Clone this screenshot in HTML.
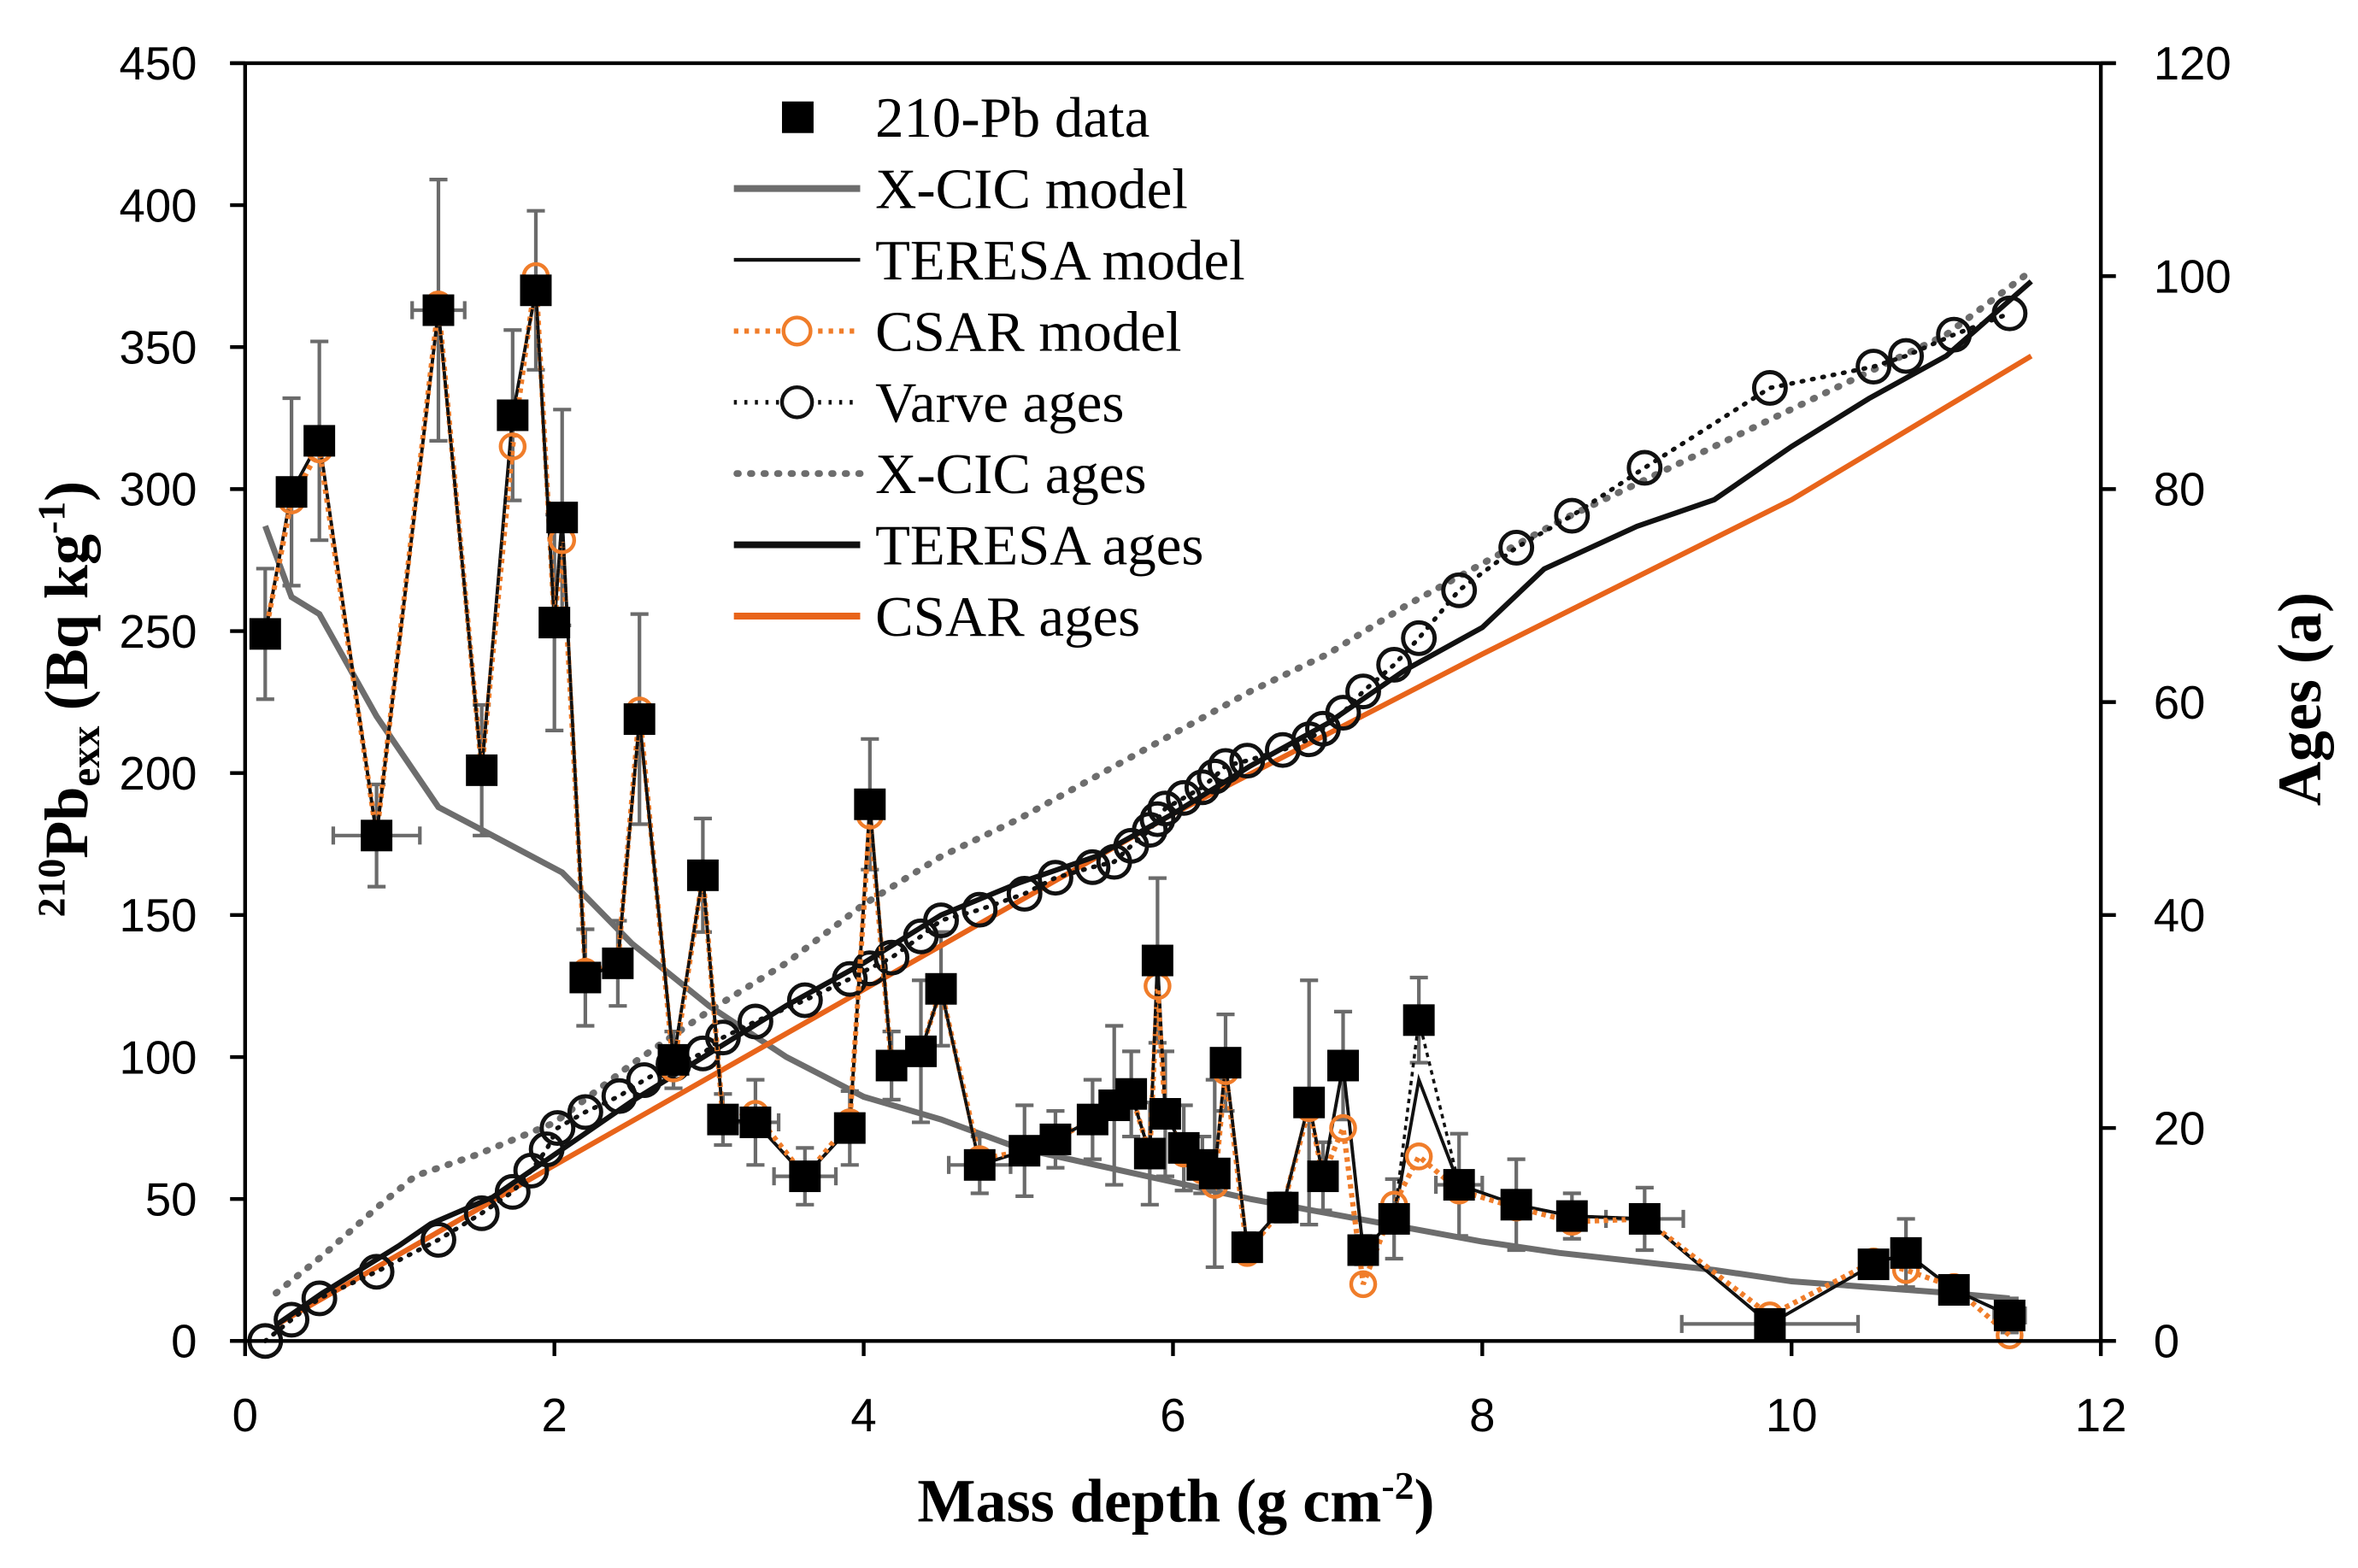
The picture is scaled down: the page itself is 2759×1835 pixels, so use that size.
<!DOCTYPE html>
<html><head><meta charset="utf-8"><style>
html,body{margin:0;padding:0;background:#fff;}
svg{display:block;}
.sans{font-family:"Liberation Sans",sans-serif;}
.ser{font-family:"Liberation Serif",serif;}
</style></head><body>
<svg id="chart" width="2759" height="1835" viewBox="0 0 1568 1043" preserveAspectRatio="none" xmlns="http://www.w3.org/2000/svg">
<g id="plot"></g>
<g id="axes"></g>
<g id="legend"></g>
</svg>
<script>
// ---- data ----
const pbDepth = [0.13,0.30,0.48,0.85,1.25,1.53,1.73,1.88,2.0,2.05,2.2,2.41,2.55,2.77,2.96,3.09,3.30,3.62,3.91,4.04,4.18,4.37,4.50,4.75,5.04,5.24,5.48,5.62,5.73,5.85,5.90,5.95,6.07,6.19,6.27,6.34,6.48,6.71,6.88,6.97,7.10,7.23,7.43,7.59,7.85,8.22,8.58,9.05,9.86,10.53,10.74,11.05,11.41];
const pbValue = [249,299,317,178,363,201,326,370,253,290,128,133,219,99,164,78,77,58,75,189,97,102,124,62,67,71,78,83,87,66,134,80,68,62,59,98,33,47,84,58,97,32,43,113,55,48,44,43,6,27,31,18,9];
const pbYErr = [23,33,35,18,46,23,30,28,38,38,17,15,37,10,20,9,15,10,13,23,12,25,20,10,16,10,14,28,15,18,29,22,15,10,33,17,5,5,43,12,19,5,14,15,18,16,8,11,3,3,12,4,6];
const pbXErr = [0,0,0,0.28,0.17,0,0,0,0,0,0,0,0,0,0,0,0.15,0.2,0,0,0,0,0,0.2,0,0,0,0,0,0,0,0,0,0,0,0,0,0,0,0,0,0,0,0,0.15,0,0,0.25,0.57,0,0,0,0.1];
const teresaModel = [249,299,317,178,363,201,326,370,253,290,128,133,219,99,164,78,77,58,75,189,97,102,124,62,67,71,78,83,87,66,134,80,68,62,59,98,33,47,84,58,97,32,43,92,55,48,44,43,6,27,31,18,9];
const csarModel = [249,296,314,178,365,201,315,375,253,282,130,133,222,96,164,78,80,58,77,185,97,102,124,64,67,71,78,83,87,66,125,80,66,60,55,95,31,47,82,58,75,20,48,65,53,47,42,43,9,28,25,19,2];
const xcicDepth = [0.13,0.3,0.48,0.85,1.25,1.53,2.05,2.5,3.0,3.5,4.0,4.5,5.0,5.5,6.0,6.5,7.0,7.5,8.0,8.5,9.0,9.5,10.0,10.5,11.0,11.41];
const xcicModel = [287,262,256,220,188,180,165,140,118,100,86,78,68,62,56,50,45,40,35,31,28,25,21,19,17,15];
const varveDepth = [0.13,0.3,0.48,0.85,1.25,1.53,1.73,1.85,1.95,2.02,2.2,2.42,2.58,2.77,2.96,3.09,3.3,3.62,3.91,4.04,4.18,4.37,4.50,4.75,5.04,5.24,5.48,5.62,5.73,5.85,5.90,5.95,6.07,6.19,6.27,6.34,6.48,6.71,6.88,6.97,7.10,7.23,7.43,7.59,7.85,8.22,8.58,9.05,9.86,10.53,10.74,11.05,11.41];
const varveAge = [0,2,4,6.5,9.5,12,14,16,18,20,21.5,23,24.5,26,27,28.5,30,32,34,35,36,38,39.5,40.5,42,43.5,44.5,45,46.5,48,49,50,51,52,53,54,54.5,55.5,56.5,57.5,59,61,63.5,66,70.5,74.5,77.5,82,89.5,91.5,92.5,94.5,96.5];
const xcicAgeDepth = [0.2,0.5,0.85,1.1,1.5,2.0,2.5,3.0,3.5,4.0,4.5,5.0,5.5,6.0,6.5,7.0,7.5,8.0,8.5,9.0,9.5,10.0,10.5,11.0,11.55];
const xcicAge = [4.5,8,12.5,15.5,17.5,20.5,26,31,35.5,41,45.5,49,53,57,61,64.5,69,73,77,80.5,84,87.5,91,94.5,100.5];
const teresaAgeDepth = [0.2,0.5,1.0,1.2,1.6,2.0,2.5,3.0,3.5,4.0,4.5,5.0,5.5,6.0,6.5,7.0,7.5,8.0,8.4,9.0,9.5,10.0,10.5,11.0,11.55];
const teresaAge = [1.5,4.5,9,11,13.5,17.5,22.5,27,31.5,35.5,40,43,45.5,49.5,54,58,63,67,72.5,76.5,79,84,88.5,92.5,99.5];
const csarAgeDepth = [0.2,2,4,6,8,10,11.55];
const csarAge = [1.5,16.5,33,49.5,64.5,79,92.5];
const xTicks = [0,2,4,6,8,10,12];
const yTicks = [0,50,100,150,200,250,300,350,400,450];
const y2Ticks = [0,20,40,60,80,100,120];

// ---- axis functions ----
const X0=163,X1=1397,YT=42,YB=892;
const sx=v=>X0+(X1-X0)*v/12;
const sy=v=>YB-(YB-YT)*v/450;
const sy2=v=>YB-(YB-YT)*v/120;
const NS="http://www.w3.org/2000/svg";
function mk(tag,attrs,parent){const e=document.createElementNS(NS,tag);for(const k in attrs)e.setAttribute(k,attrs[k]);parent.appendChild(e);return e;}
const plot=document.getElementById('plot'),axes=document.getElementById('axes'),legend=document.getElementById('legend');
function poly(xs,ys,f,style,name){
  const p=mk('polyline',Object.assign({points:xs.map((x,i)=>sx(x)+','+f(ys[i])).join(' '),fill:'none'},style),plot);
  
  
}
pbDepth.forEach((d,i)=>{
  const g=mk('g',{stroke:'#6b6b6b','stroke-width':2.4,fill:'none'},plot);
  
  
  const x=sx(d),y1=sy(pbValue[i]+pbYErr[i]),y2=sy(Math.max(0,pbValue[i]-pbYErr[i]));
  mk('line',{x1:x,x2:x,y1:y1,y2:y2},g);
  mk('line',{x1:x-6,x2:x+6,y1:y1,y2:y1},g);
  mk('line',{x1:x-6,x2:x+6,y1:y2,y2:y2},g);
  if(pbXErr[i]>0){const xa=sx(d-pbXErr[i]),xb=sx(d+pbXErr[i]),y=sy(pbValue[i]);
    mk('line',{x1:xa,x2:xb,y1:y,y2:y},g);mk('line',{x1:xa,x2:xa,y1:y-6,y2:y+6},g);mk('line',{x1:xb,x2:xb,y1:y-6,y2:y+6},g);}
});
poly(xcicDepth,xcicModel,sy,{stroke:'#6d6d6d','stroke-width':4},'x-cic-model-line');
poly(xcicAgeDepth,xcicAge,sy2,{stroke:'#6d6d6d','stroke-width':4.5,'stroke-dasharray':'1 8','stroke-linecap':'round'},'x-cic-ages-line');
poly(csarAgeDepth,csarAge,sy2,{stroke:'#e8641a','stroke-width':3.5},'csar-ages-line');
poly(teresaAgeDepth,teresaAge,sy2,{stroke:'#111','stroke-width':3.5},'teresa-ages-line');
poly(varveDepth,varveAge,sy2,{stroke:'#111','stroke-width':3,'stroke-dasharray':'1 6','stroke-linecap':'round'},'varve-ages-line');
varveDepth.forEach((d,i)=>{const c=mk('circle',{cx:sx(d),cy:sy2(varveAge[i]),r:10.5,fill:'none',stroke:'#111','stroke-width':2.8},plot);
  
  });
poly(pbDepth,teresaModel,sy,{stroke:'#111','stroke-width':2.2},'teresa-model-line');
poly(pbDepth,csarModel,sy,{stroke:'#f07d2a','stroke-width':3.5,'stroke-dasharray':'3 3'},'csar-model-line');
poly(pbDepth,pbValue,sy,{stroke:'#111','stroke-width':2,'stroke-dasharray':'3 3','stroke-dashoffset':3},'pb-data-line');
pbDepth.forEach((d,i)=>{const c=mk('circle',{cx:sx(d),cy:sy(csarModel[i]),r:8,fill:'none',stroke:'#f07d2a','stroke-width':2.5},plot);
  
  });
pbDepth.forEach((d,i)=>{const r=mk('rect',{x:sx(d)-10.5,y:sy(pbValue[i])-10.5,width:21,height:21,fill:'#000'},plot);
  
  });

mk('line',{x1:X0,x2:X0,y1:YT,y2:YB,stroke:'#000','stroke-width':2.5},axes);
mk('line',{x1:X1,x2:X1,y1:YT,y2:YB,stroke:'#000','stroke-width':2.5},axes);
mk('line',{x1:X0-10,x2:X1+10,y1:YB,y2:YB,stroke:'#000','stroke-width':2.5},axes);
mk('line',{x1:X0-10,x2:X1+10,y1:YT,y2:YT,stroke:'#000','stroke-width':2.5},axes);
yTicks.forEach(v=>{mk('line',{x1:X0-10,x2:X0,y1:sy(v),y2:sy(v),stroke:'#000','stroke-width':2.5},axes);
  const t=mk('text',{x:131,y:sy(v)+11,'text-anchor':'end','font-size':31,class:'sans'},axes);t.textContent=v;
  
  });
y2Ticks.forEach(v=>{mk('line',{x1:X1,x2:X1+10,y1:sy2(v),y2:sy2(v),stroke:'#000','stroke-width':2.5},axes);
  const t=mk('text',{x:1432,y:sy2(v)+11,'text-anchor':'start','font-size':31,class:'sans'},axes);t.textContent=v;
  
  });
xTicks.forEach(v=>{mk('line',{x1:sx(v),x2:sx(v),y1:YB,y2:YB+10,stroke:'#000','stroke-width':2.5},axes);
  const t=mk('text',{x:sx(v),y:952,'text-anchor':'middle','font-size':31,class:'sans'},axes);t.textContent=v;
  
  });

const legItems=[['210-Pb data','sq'],['X-CIC model','grey'],['TERESA model','thin'],['CSAR model','csar'],['Varve ages','varve'],['X-CIC ages','greydot'],['TERESA ages','thick'],['CSAR ages','orange']];
legItems.forEach((it,i)=>{
  const y=78+i*47.4;
  const g=mk('g',{},legend);
  
  
  const k=it[1];
  if(k==='sq')mk('rect',{x:520,y:y-10.5,width:21,height:21,fill:'#000'},g);
  if(k==='grey')mk('line',{x1:488,x2:572,y1:y,y2:y,stroke:'#6d6d6d','stroke-width':4.5},g);
  if(k==='thin')mk('line',{x1:488,x2:572,y1:y,y2:y,stroke:'#111','stroke-width':2.5},g);
  if(k==='csar'){mk('line',{x1:488,x2:572,y1:y,y2:y,stroke:'#f07d2a','stroke-width':3.5,'stroke-dasharray':'3 4'},g);mk('circle',{cx:530,cy:y,r:9,fill:'#fff',stroke:'#f07d2a','stroke-width':2.5},g);}
  if(k==='varve'){mk('line',{x1:488,x2:572,y1:y,y2:y,stroke:'#111','stroke-width':3,'stroke-dasharray':'2 5'},g);mk('circle',{cx:530,cy:y,r:10,fill:'#fff',stroke:'#111','stroke-width':2.5},g);}
  if(k==='greydot')mk('line',{x1:490,x2:572,y1:y,y2:y,stroke:'#6d6d6d','stroke-width':4.5,'stroke-dasharray':'1 8','stroke-linecap':'round'},g);
  if(k==='thick')mk('line',{x1:488,x2:572,y1:y,y2:y,stroke:'#111','stroke-width':4.5},g);
  if(k==='orange')mk('line',{x1:488,x2:572,y1:y,y2:y,stroke:'#e8641a','stroke-width':4.5},g);
  const t=mk('text',{x:582,y:y+13,'font-size':38,class:'ser'},g);t.textContent=it[0];
});
</script>
<svg style="position:absolute;left:0;top:0" width="2759" height="1835" viewBox="0 0 1568 1043" preserveAspectRatio="none" xmlns="http://www.w3.org/2000/svg">
<text class="ser" x="782" y="1012" text-anchor="middle" font-size="41" font-weight="bold">Mass depth (g cm<tspan font-size="26" dy="-15">-2</tspan><tspan dy="15">)</tspan></text>
<text class="ser" transform="translate(58,465) rotate(-90)" text-anchor="middle" font-size="41" font-weight="bold"><tspan font-size="26" dy="-15">210</tspan><tspan dy="15">Pb</tspan><tspan font-size="28" dy="8">exx</tspan><tspan dy="-8"> (Bq kg</tspan><tspan font-size="26" dy="-15">-1</tspan><tspan dy="15">)</tspan></text>
<text class="ser" transform="translate(1543,465) rotate(-90)" text-anchor="middle" font-size="41" font-weight="bold">Ages (a)</text>
</svg>
</body></html>
